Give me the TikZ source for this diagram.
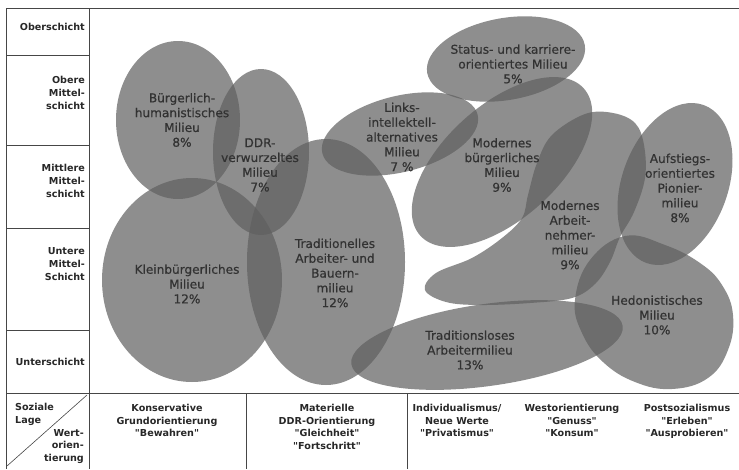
\documentclass[tikz,border=0pt]{standalone}
\usepackage{fontspec}
\setmainfont{DejaVu Sans}[Ligatures=TeXOff]
\newfontfamily\mfont{DejaVu Sans}[Ligatures=TeXOff, FakeBold=0.6]
\definecolor{mgray}{RGB}{95,95,95}
\definecolor{mtxt}{RGB}{50,50,50}
\definecolor{ttxt}{RGB}{40,40,40}
\definecolor{lgray}{RGB}{70,70,70}
\tikzset{
  milieu/.style={fill=mgray, fill opacity=0.7, draw=none},
  mtext/.style={text=mtxt, align=center, font=\mfont\fontsize{12.1}{14.8}\selectfont, inner sep=0pt},
  ttext/.style={text=ttxt, align=center, font=\fontsize{9.6}{12.6}\selectfont\bfseries, inner sep=0pt},
  rtext/.style={ttext, align=right},
  grid/.style={draw=lgray, line width=1pt},
}
\begin{document}
\begin{tikzpicture}[x=1pt,y=-1pt]
\useasboundingbox (0,0) rectangle (739,469);
\fill[white] (0,0) rectangle (739,469);

% ---- milieus ----
\fill[milieu] (178,120) ellipse [x radius=62pt, y radius=79pt];
\fill[milieu] (261,152) ellipse [x radius=48pt, y radius=83pt];
\fill[milieu] (192,280) ellipse [x radius=90pt, y radius=102pt];
\fill[milieu] (326,262) ellipse [x radius=79pt, y radius=123pt];
\fill[milieu, rotate around={14:(400,134)}] (400,134) ellipse [x radius=80pt, y radius=38pt];
\fill[milieu, rotate around={10:(506,59)}] (506,59) ellipse [x radius=80pt, y radius=41pt];
\fill[milieu, rotate around={42:(502,162)}] (502,162) ellipse [x radius=110pt, y radius=57pt];
\fill[milieu, rotate around={70:(675,184)}] (675,184) ellipse [x radius=84pt, y radius=53pt];
\fill[milieu, rotate around={8:(487,345)}] (487,345) ellipse [x radius=137pt, y radius=41pt];
% Hedonistisches
\fill[milieu] plot[smooth cycle, tension=0.7] coordinates {
  (625,236) (665,245) (700,263) (722,285) (733,315) (728,350) (708,378)
  (672,389) (635,382) (603,362) (582,333) (575,300) (590,260)};
% Modernes Arbeitnehmermilieu
\fill[milieu] plot[smooth cycle, tension=0.6] coordinates {
  (613,113) (635,123) (644,145) (645,178) (634,212) (620,237) (610,262)
  (595,284) (572,298) (530,303) (480,305) (446,302) (425,290) (436,273)
  (472,258) (502,238) (522,218) (528,195) (537,163) (552,135) (585,114)};

% ---- milieu labels ----
\node[mtext] (buerg) at (182,120) {Bürgerlich-\\humanistisches\\Milieu\\8\%};
\node[mtext] (ddr) at (260,165) {DDR-\\verwurzeltes\\Milieu\\7\%};
\node[mtext] (links) at (402,137) {Links-\\intellektell-\\alternatives\\Milieu\\7 \%};
\node[mtext] (status) at (513,64) {Status- und karriere-\\orientiertes Milieu\\5\%};
\node[mtext] (modb) at (502,165) {Modernes\\bürgerliches\\Milieu\\9\%};
\node[mtext] (aufst) at (680,188) {Aufstiegs-\\orientiertes\\Pionier-\\milieu\\8\%};
\node[mtext] (arbn) at (570,235) {Modernes\\Arbeit-\\nehmer-\\milieu\\9\%};
\node[mtext] (klein) at (187,284) {Kleinbürgerliches\\Milieu\\12\%};
\node[mtext] (trad) at (335,273) {Traditionelles\\Arbeiter- und\\Bauern-\\milieu\\12\%};
\node[mtext] (tlos) at (470,350) {Traditionsloses\\Arbeitermilieu\\13\%};
\node[mtext] (hedo) at (657,315) {Hedonistisches\\Milieu\\10\%};

% ---- table ----
\draw[grid] (739,8) -- (6,8) -- (6,469);
\draw[grid] (89,8) -- (89,469);
\draw[grid] (6,55) -- (89,55);
\draw[grid] (6,145) -- (89,145);
\draw[grid] (6,228) -- (89,228);
\draw[grid] (6,330) -- (89,330);
\draw[grid] (6,393) -- (739,393);
\draw[grid] (246,393) -- (246,469);
\draw[grid] (407,393) -- (407,469);
\draw[draw=lgray, line width=0.6pt] (7,466) -- (87,395);

\node[rtext, anchor=east] (ober) at (85,27) {Oberschicht};
\node[rtext, anchor=east] (omit) at (85,93) {Obere\\Mittel-\\schicht};
\node[rtext, anchor=east] (mmit) at (85,181) {Mittlere\\Mittel-\\schicht};
\node[rtext, anchor=east] (umit) at (85,264) {Untere\\Mittel-\\Schicht};
\node[rtext, anchor=east] (unter) at (85,362) {Unterschicht};
\node[ttext, align=left, anchor=north west] (soz) at (15,403) {Soziale\\Lage};
\node[rtext, anchor=north east] (wert) at (84,429) {Wert-\\orien-\\tierung};

\node[ttext, anchor=north] (kons) at (167,404) {Konservative\\Grundorientierung\\"Bewahren"};
\node[ttext, anchor=north] (mat) at (327,404) {Materielle\\DDR-Orientierung\\"Gleichheit"\\"Fortschritt"};
\node[ttext, anchor=north] (indi) at (457,404) {Individualismus/\\Neue Werte\\"Privatismus"};
\node[ttext, anchor=north] (west) at (572,404) {Westorientierung\\"Genuss"\\"Konsum"};
\node[ttext, anchor=north] (post) at (687,404) {Postsozialismus\\"Erleben"\\"Ausprobieren"};
\end{tikzpicture}
\end{document}
